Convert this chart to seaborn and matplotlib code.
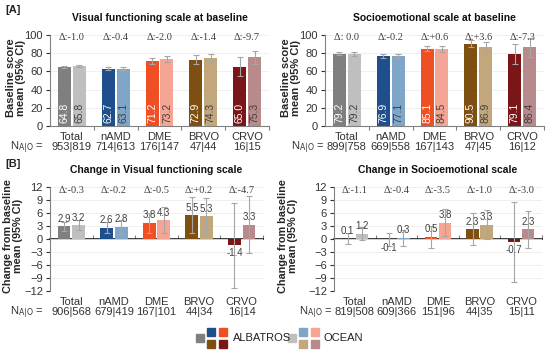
import numpy as np
import pandas as pd
import matplotlib
matplotlib.use("Agg")
import matplotlib.pyplot as plt
import seaborn as sns
from matplotlib.patches import Rectangle

groups = ["Total", "nAMD", "DME", "BRVO", "CRVO"]
studies = ["ALBATROS", "OCEAN"]

# colours (ALBATROS dark, OCEAN light)
col_alb = ["#7f7f7f", "#1f4e8c", "#f04e23", "#7f4f12", "#7a1518"]
col_oce = ["#bfbfbf", "#7fa6c9", "#f5a593", "#c3a77c", "#b98a8c"]

# [A] Visual functioning scale at baseline
vis_base_alb = [64.8, 62.7, 71.2, 72.9, 65.0]
vis_base_alb_lo = [63.4, 61.0, 68.0, 68.0, 54.5]
vis_base_alb_hi = [66.2, 64.4, 74.4, 77.8, 75.5]
vis_base_oce = [65.8, 63.1, 73.2, 74.3, 75.3]
vis_base_oce_lo = [64.3, 61.2, 70.0, 70.0, 68.0]
vis_base_oce_hi = [67.3, 65.0, 76.4, 78.6, 82.5]
vis_base_n = ["953|819", "714|613", "176|147", "47|44", "16|15"]
vis_base_delta = ["Δ:-1.0", "Δ:-0.4", "Δ:-2.0", "Δ:-1.4", "Δ:-9.7"]

# [A] Socioemotional scale at baseline
soc_base_alb = [79.2, 76.9, 85.1, 90.5, 79.1]
soc_base_alb_lo = [77.5, 75.0, 82.0, 87.0, 68.0]
soc_base_alb_hi = [81.0, 78.8, 88.2, 94.0, 90.0]
soc_base_oce = [79.2, 77.1, 84.5, 86.9, 86.4]
soc_base_oce_lo = [77.0, 75.0, 81.0, 82.0, 76.0]
soc_base_oce_hi = [81.4, 79.2, 88.0, 92.0, 97.0]
soc_base_n = ["899|758", "669|558", "167|143", "47|45", "16|12"]
soc_base_delta = ["Δ: 0.0", "Δ:-0.2", "Δ:+0.6", "Δ:+3.6", "Δ:-7.3"]

# [B] Change in Visual functioning scale
vis_chg_alb = [2.9, 2.6, 3.8, 5.5, -1.4]
vis_chg_alb_lo = [1.8, 1.3, 1.5, 1.3, -11.2]
vis_chg_alb_hi = [4.0, 3.9, 6.0, 9.8, 8.4]
vis_chg_oce = [3.2, 2.8, 4.3, 5.3, 3.3]
vis_chg_oce_lo = [2.0, 1.2, 1.3, 1.2, -3.3]
vis_chg_oce_hi = [4.4, 4.4, 7.3, 9.4, 9.9]
vis_chg_n = ["906|568", "679|419", "167|101", "44|34", "16|14"]
vis_chg_delta = ["Δ:-0.3", "Δ:-0.2", "Δ:-0.5", "Δ:+0.2", "Δ:-4.7"]

# [B] Change in Socioemotional scale
soc_chg_alb = [0.1, -0.1, 0.5, 2.3, -0.7]
soc_chg_alb_lo = [-1.1, -1.6, -2.0, -1.3, -10.0]
soc_chg_alb_hi = [1.3, 1.4, 3.0, 6.0, 8.6]
soc_chg_oce = [1.2, 0.3, 3.8, 3.3, 2.3]
soc_chg_oce_lo = [-0.3, -1.5, 0.6, 0.0, -2.0]
soc_chg_oce_hi = [2.7, 2.1, 7.0, 6.6, 6.5]
soc_chg_n = ["819|508", "609|366", "151|96", "44|35", "15|11"]
soc_chg_delta = ["Δ:-1.1", "Δ:-0.4", "Δ:-3.5", "Δ:-1.0", "Δ:-3.0"]

sns.set_theme(style="white")
plt.rcParams["font.family"] = ["Liberation Sans", "DejaVu Sans"]

W, H = 550, 353
fig = plt.figure(figsize=(W / 100, H / 100), dpi=100)


def px_axes(left, top, right, bottom):
    return fig.add_axes([left / W, 1 - bottom / H, (right - left) / W, (bottom - top) / H])


def panel(ax, title, alb, alb_lo, alb_hi, oce, oce_lo, oce_hi, nlab, delta, baseline,
          ylab_x, n_pos):
    df = pd.DataFrame({
        "group": groups * 2,
        "study": [studies[0]] * 5 + [studies[1]] * 5,
        "mean": alb + oce,
    })
    sns.barplot(data=df, x="group", y="mean", hue="study", hue_order=studies,
                order=groups, errorbar=None, width=0.68, gap=0.12,
                legend=False, ax=ax)
    bars = sorted([p for p in ax.patches if p.get_width() > 0], key=lambda p: p.get_x())
    means = []
    los = []
    his = []
    for i in range(5):
        means += [alb[i], oce[i]]
        los += [alb_lo[i], oce_lo[i]]
        his += [alb_hi[i], oce_hi[i]]
    xs = []
    for k, p in enumerate(bars):
        gi, si = divmod(k, 2)
        p.set_facecolor(col_alb[gi] if si == 0 else col_oce[gi])
        p.set_edgecolor("none")
        xs.append(p.get_x() + p.get_width() / 2)
    means = np.array(means)
    ax.errorbar(xs, means, yerr=[means - np.array(los), np.array(his) - means],
                fmt="none", ecolor="#a6a6a6", elinewidth=0.8, capsize=2, capthick=0.8, zorder=3)

    for k, x in enumerate(xs):
        v = means[k]
        if baseline:
            ax.text(x, 3, f"{v:.1f}", rotation=90, ha="center", va="bottom", fontsize=7.5,
                    color="white" if k % 2 == 0 else "#404040", zorder=4)
        else:
            y = v + 1.7 if v >= 0 else v - 1.9
            ax.text(x, y, f"{v:.1f}", ha="center", va="center", fontsize=7,
                    color="#404040", zorder=4)

    for i in range(5):
        ax.text(i, 97 if baseline else 11.3, delta[i], ha="center", va="center",
                fontsize=7.5, color="#404040", family=["Liberation Serif", "DejaVu Serif"])

    ax.set_xlim(-0.5, 4.5)
    if baseline:
        ax.set_ylim(0, 100)
        ax.set_yticks(range(0, 101, 20))
        ax.set_ylabel("Baseline score\nmean (95% CI)", fontsize=8, fontweight="bold",
                      linespacing=1.0)
    else:
        ax.set_ylim(-12, 12)
        ax.set_yticks(range(-12, 13, 3))
        ax.set_ylabel("Change from baseline\nmean (95% CI)", fontsize=7.8, fontweight="bold",
                      linespacing=1.0)
    ax.yaxis.set_label_coords(ylab_x, 0.53)
    ax.set_xticks(range(5))
    ax.set_xticklabels([f"{g}\n{n}" for g, n in zip(groups, nlab)], fontsize=8,
                       color="#333333", linespacing=1.05)
    ax.tick_params(axis="x", length=0, pad=4)
    ax.tick_params(axis="y", labelsize=8, colors="#333333", length=3, width=0.8,
                   direction="out", left=True, pad=2)
    ax.set_xlabel("")
    ax.yaxis.grid(True, color="#ececec", linewidth=0.6)
    ax.set_axisbelow(True)
    for s in ["top", "right"]:
        ax.spines[s].set_visible(False)
    ax.spines["left"].set_color("#808080")
    ax.spines["left"].set_linewidth(0.8)
    bpos = np.arange(0.5, 4.6, 1.0)
    if baseline:
        ax.spines["bottom"].set_color("#808080")
        ax.spines["bottom"].set_linewidth(0.8)
        ax.set_xticks(bpos, minor=True)
        ax.tick_params(axis="x", which="minor", length=3, width=0.8, color="#808080",
                       direction="out", bottom=True)
    else:
        ax.spines["bottom"].set_visible(False)
        sec = ax.secondary_xaxis(0.5)
        sec.set_xticks(bpos)
        sec.set_xticklabels([])
        sec.spines["bottom"].set_color("#808080")
        sec.spines["bottom"].set_linewidth(0.8)
        sec.tick_params(length=3, width=0.8, color="#808080", direction="out")
    ax.set_title(title, fontsize=7.5, fontweight="bold", pad=10, color="#111111")
    fig.text(n_pos[0] / W, 1 - n_pos[1] / H, r"N$_{\mathrm{A|O}}$ =",
             ha="right", va="center", fontsize=8, color="#333333")
    for lbl in ax.get_xticklabels():
        lbl.set_va("top")


ax1 = px_axes(50, 35, 269, 126)
ax2 = px_axes(325, 35, 544, 126)
ax3 = px_axes(50, 187, 263, 291)
ax4 = px_axes(334, 187, 542, 291)

panel(ax1, "Visual functioning scale at baseline", vis_base_alb, vis_base_alb_lo, vis_base_alb_hi,
      vis_base_oce, vis_base_oce_lo, vis_base_oce_hi, vis_base_n, vis_base_delta, True,
      -0.11, (44, 147))
panel(ax2, "Socioemotional scale at baseline", soc_base_alb, soc_base_alb_lo, soc_base_alb_hi,
      soc_base_oce, soc_base_oce_lo, soc_base_oce_hi, soc_base_n, soc_base_delta, True,
      -0.11, (325, 147))
panel(ax3, "Change in Visual functioning scale", vis_chg_alb, vis_chg_alb_lo, vis_chg_alb_hi,
      vis_chg_oce, vis_chg_oce_lo, vis_chg_oce_hi, vis_chg_n, vis_chg_delta, False,
      -0.125, (44, 312))
panel(ax4, "Change in Socioemotional scale", soc_chg_alb, soc_chg_alb_lo, soc_chg_alb_hi,
      soc_chg_oce, soc_chg_oce_lo, soc_chg_oce_hi, soc_chg_n, soc_chg_delta, False,
      -0.175, (333, 312))

fig.text(5 / W, 1 - 10 / H, "[A]", fontsize=8, fontweight="bold", va="center", color="#222222")
fig.text(5 / W, 1 - 164 / H, "[B]", fontsize=8, fontweight="bold", va="center", color="#222222")

# legend drawn in pixel space
lax = fig.add_axes([0, 0, 1, 1])
lax.set_xlim(0, W)
lax.set_ylim(H, 0)
lax.axis("off")
s = 8
for x0, cols, label, tx in [(196, col_alb, "ALBATROS", 233), (288, col_oce, "OCEAN", 324)]:
    lax.add_patch(Rectangle((x0, 334), s, s, color=cols[0]))
    lax.add_patch(Rectangle((x0 + 11, 328), s, s, color=cols[1]))
    lax.add_patch(Rectangle((x0 + 23, 328), s, s, color=cols[2]))
    lax.add_patch(Rectangle((x0 + 11, 340), s, s, color=cols[3]))
    lax.add_patch(Rectangle((x0 + 23, 340), s, s, color=cols[4]))
    lax.text(tx, 338, label, fontsize=8, va="center", ha="left", color="#222222")

fig.savefig("out.png", dpi=100)
